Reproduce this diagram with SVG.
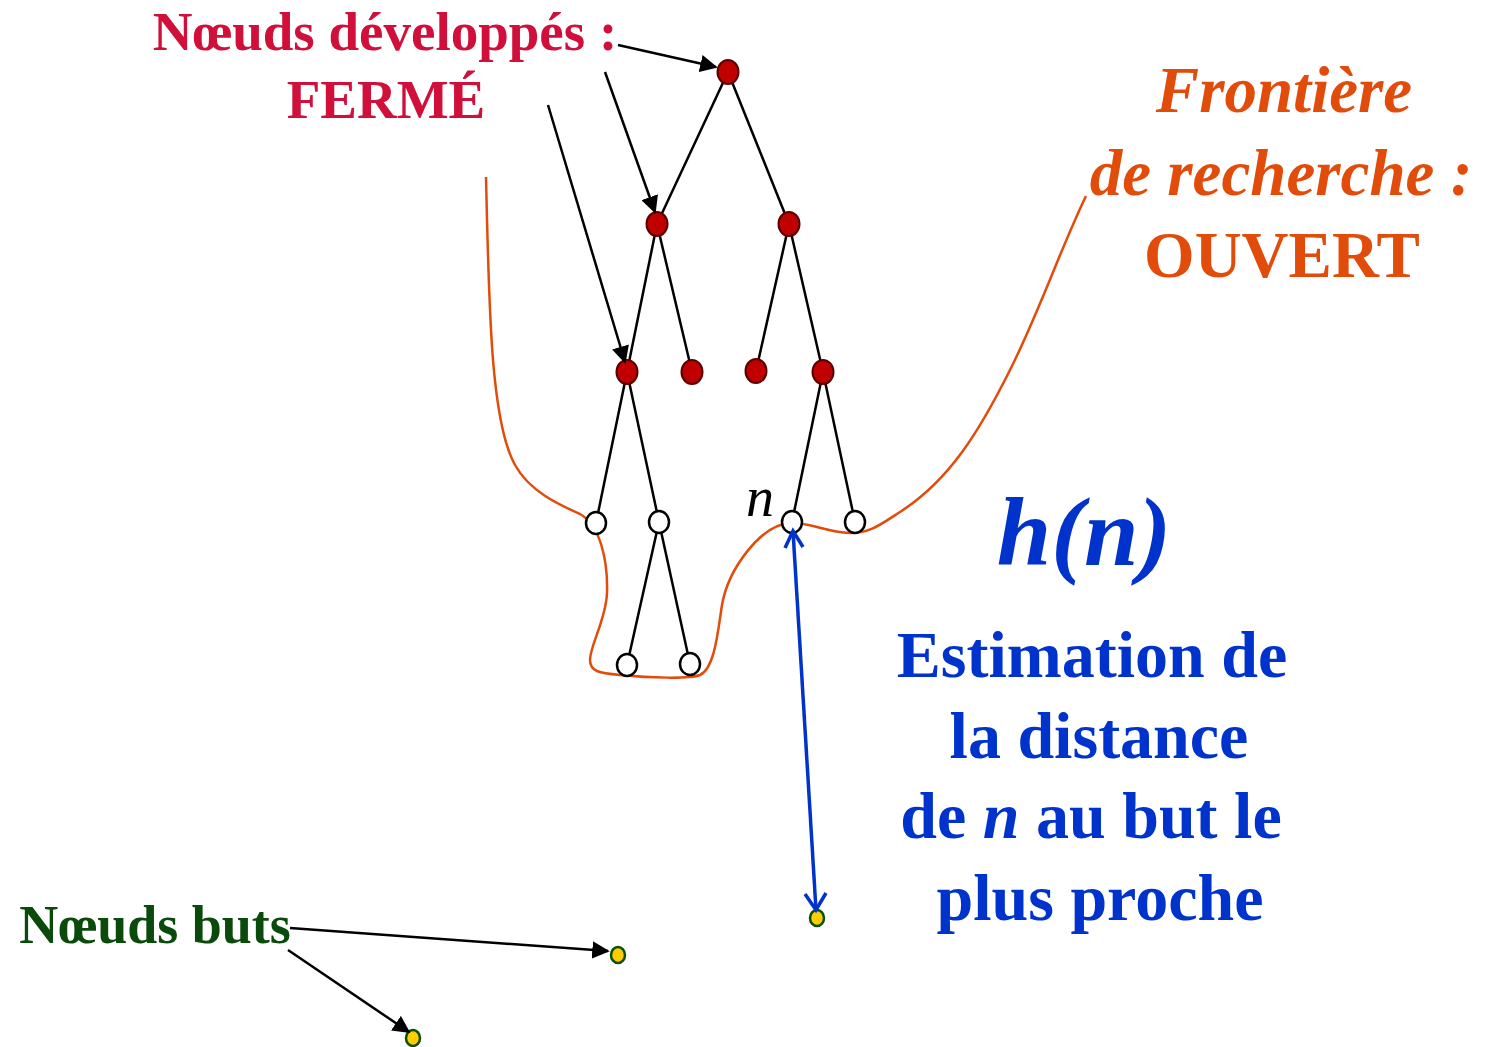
<svg xmlns="http://www.w3.org/2000/svg" width="1486" height="1047" viewBox="0 0 1486 1047">
<style>
.edge{stroke:#000;stroke-width:2.5;fill:none}
.ptr{stroke:#000;stroke-width:2.5;fill:none;marker-end:url(#ah2)}
.closed{fill:#C00000;stroke:#5a0000;stroke-width:2}
.open{fill:#fff;stroke:#000;stroke-width:2.5}
.goal{fill:#FFCC00;stroke:#0a5000;stroke-width:2.5}
.serif{font-family:"Liberation Serif","Times New Roman",serif;font-weight:bold}
.blue{stroke:#0033CC;stroke-width:3.5;fill:none}
</style>
<defs>
<marker id="ah2" viewBox="0 0 10 10" refX="9" refY="5" markerWidth="7" markerHeight="7" orient="auto" markerUnits="strokeWidth">
<path d="M0,0 L10,5 L0,10 z" fill="#000"/>
</marker>
</defs>

<g id="frontier">
<path d="M486,177 C489,300 490,420 515,465 C530,492 560,505 580,514 C600,525 608,560 607,593 C606,620 590,645 590,660 C590,672 600,673 620,675 C650,678 690,679 700,675 C715,668 718,630 722,605 C728,570 760,525 790,523 C810,522 825,532 850,533 C870,533 880,525 900,512 C950,480 980,430 1010,370 C1040,310 1060,250 1086,196" fill="none" stroke="#E24C0A" stroke-width="2.5"/>
</g>

<g id="edges">
<line class="edge" x1="728" y1="72" x2="657" y2="224"/>
<line class="edge" x1="728" y1="72" x2="789" y2="224"/>
<line class="edge" x1="657" y1="224" x2="627" y2="372"/>
<line class="edge" x1="657" y1="224" x2="692" y2="372"/>
<line class="edge" x1="789" y1="224" x2="756" y2="371"/>
<line class="edge" x1="789" y1="224" x2="823" y2="372"/>
<line class="edge" x1="627" y1="372" x2="596" y2="523"/>
<line class="edge" x1="627" y1="372" x2="659" y2="522"/>
<line class="edge" x1="823" y1="372" x2="792" y2="522"/>
<line class="edge" x1="823" y1="372" x2="855" y2="522"/>
<line class="edge" x1="659" y1="522" x2="627" y2="665"/>
<line class="edge" x1="659" y1="522" x2="690" y2="664"/>
</g>

<g id="nodes">
<ellipse id="c1" class="closed" cx="728" cy="72" rx="10.5" ry="12"/>
<ellipse id="c2" class="closed" cx="657" cy="224" rx="10.5" ry="12"/>
<ellipse id="c3" class="closed" cx="789" cy="224" rx="10.5" ry="12"/>
<ellipse id="c4" class="closed" cx="627" cy="372" rx="10.5" ry="12"/>
<ellipse id="c5" class="closed" cx="692" cy="372" rx="10.5" ry="12"/>
<ellipse id="c6" class="closed" cx="756" cy="371" rx="10.5" ry="12"/>
<ellipse id="c7" class="closed" cx="823" cy="372" rx="10.5" ry="12"/>
<ellipse id="o1" class="open" cx="596" cy="523" rx="10" ry="11"/>
<ellipse id="o2" class="open" cx="659" cy="522" rx="10" ry="11"/>
<ellipse id="o3" class="open" cx="792" cy="522" rx="10" ry="11"/>
<ellipse id="o4" class="open" cx="855" cy="522" rx="10" ry="11"/>
<ellipse id="o5" class="open" cx="627" cy="665" rx="10" ry="11"/>
<ellipse id="o6" class="open" cx="690" cy="664" rx="10" ry="11"/>
<ellipse id="g1" class="goal" cx="817" cy="918" rx="7" ry="8"/>
<ellipse id="g2" class="goal" cx="618" cy="955" rx="7" ry="8"/>
<ellipse id="g3" class="goal" cx="413" cy="1038" rx="7" ry="8"/>
</g>

<g id="pointers">
<line class="ptr" x1="618" y1="45" x2="716" y2="67"/>
<line class="ptr" x1="605" y1="72" x2="655" y2="212"/>
<line class="ptr" x1="548" y1="105" x2="625" y2="362"/>
<line class="ptr" x1="290" y1="928" x2="608" y2="951"/>
<line class="ptr" x1="288" y1="950" x2="409" y2="1032"/>
<line class="blue" x1="793" y1="531" x2="816" y2="910"/>
<polyline class="blue" points="785,548 793,531 803,547"/>
<polyline class="blue" points="805,894 816,910 826,893"/>
</g>

<g id="labels">
<text class="serif" x="385" y="50" font-size="55" fill="#D0103A" text-anchor="middle">Nœuds développés :</text>
<text class="serif" x="386" y="118" font-size="55" fill="#D0103A" text-anchor="middle">FERMÉ</text>
<text class="serif" x="1284" y="112" font-size="65" fill="#E24C0A" font-style="italic" text-anchor="middle">Frontière</text>
<text class="serif" x="1281" y="195" font-size="65" fill="#E24C0A" font-style="italic" text-anchor="middle">de recherche :</text>
<text class="serif" x="1282" y="277" font-size="65" fill="#E24C0A" text-anchor="middle">OUVERT</text>
<text x="760" y="516" font-family="Liberation Serif, serif" font-style="italic" font-size="56" fill="#000" text-anchor="middle">n</text>
<text class="serif" x="1084" y="565" font-size="98" fill="#0033CC" font-style="italic" text-anchor="middle">h(n)</text>
<text class="serif" x="1092" y="677" font-size="66" fill="#0033CC" text-anchor="middle">Estimation de</text>
<text class="serif" x="1099" y="758" font-size="66" fill="#0033CC" text-anchor="middle">la distance</text>
<text class="serif" x="1091" y="838" font-size="66" fill="#0033CC" text-anchor="middle">de <tspan font-style="italic">n</tspan> au but le</text>
<text class="serif" x="1100" y="920" font-size="66" fill="#0033CC" text-anchor="middle">plus proche</text>
<text class="serif" x="155" y="943" font-size="54" fill="#0A4A0A" text-anchor="middle">Nœuds buts</text>
</g>
</svg>
